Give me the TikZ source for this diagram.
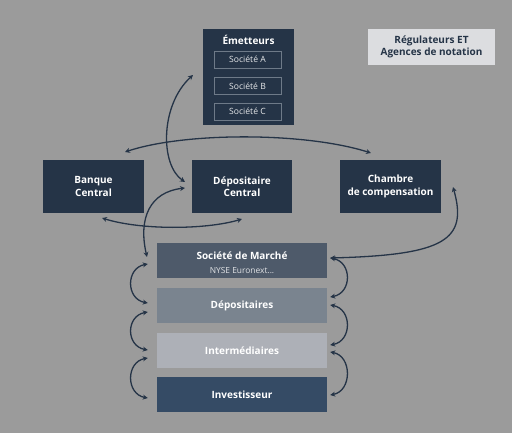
\documentclass[tikz,border=0pt]{standalone}
\usepackage{fontspec}
\setmainfont{Open Sans}
\usetikzlibrary{arrows.meta}
\definecolor{bg}{HTML}{9B9B9B}
\definecolor{navy}{HTML}{253447}
\definecolor{marche}{HTML}{4E5A6A}
\definecolor{deps}{HTML}{7A848F}
\definecolor{inter}{HTML}{ADB0B7}
\definecolor{invest}{HTML}{354B65}
\definecolor{reg}{HTML}{DCDDE0}
\definecolor{subline}{HTML}{6E7A88}
\tikzset{
  box/.style={inner sep=0pt, text=white, font=\bfseries\fontsize{10}{12.5}\selectfont, align=center},
  darkbox/.style={box, fill=navy, minimum width=101pt, minimum height=53pt},
  stackbox/.style={box, minimum width=170pt, minimum height=35pt},
  subbox/.style={inner sep=0pt, fill=navy, draw=subline, line width=0.6pt, text=white!88!navy,
    font=\fontsize{8.6}{10}\selectfont, minimum width=67pt, minimum height=17pt},
  conn/.style={draw=navy, line width=1.3pt, {Stealth[length=5pt,width=5pt]}-{Stealth[length=5pt,width=5pt]}}
}
\begin{document}
\begin{tikzpicture}[x=1pt,y=-1pt]
\fill[bg] (0,0) rectangle (512,433);
\useasboundingbox (0,0) rectangle (512,433);

% Emetteurs
\node[inner sep=0pt, fill=navy, minimum width=91pt, minimum height=96pt] (emet) at (248.5,77) {};
\node[box] (emett) at (248.5,39.5) {Émetteurs};
\node[subbox] (sa) at (247.5,59.5) {Société A};
\node[subbox] (sb) at (247.5,86) {Société B};
\node[subbox] (sc) at (247.5,111.5) {Société C};

% Regulateurs
\node[box, fill=reg, text=navy, minimum width=127pt, minimum height=36pt] (reg) at (431.5,47) {Régulateurs ET\\Agences de notation};

% middle row
\node[darkbox] (banque) at (93.5,186.5) {Banque\\Central};
\node[darkbox, minimum width=100pt] (depc) at (242,186.5) {Dépositaire\\Central};
\node[darkbox] (chambre) at (390.5,186.5) {Chambre\\de compensation};

% stack
\node[stackbox, fill=marche] (marche) at (242,260.5) {};
\node[box] (marchet) at (242,256) {Société de Marché};
\node[inner sep=0pt, text=white!82!marche, font=\fontsize{8.4}{10}\selectfont] (nyse) at (242,270.5) {NYSE Euronext...};
\node[stackbox, fill=deps] (deps) at (242,305.5) {Dépositaires};
\node[stackbox, fill=inter] (inter) at (242,350.5) {Intermédiaires};
\node[stackbox, fill=invest] (invest) at (242,394.5) {Investisseur};

% coordinates for connector ends
\coordinate (bqtop) at (125,152);
\coordinate (chtop) at (371,153);
\coordinate (emleft) at (193,75);
\coordinate (dcin1) at (185,182);
\coordinate (dcin2) at (185,188);
\coordinate (mkl) at (147,257);
\coordinate (bqbot) at (102,218);
\coordinate (dcbot) at (242,219);
\coordinate (chright) at (453,187);
\coordinate (mkr) at ([xshift=3pt,yshift=2.5pt]marche.east);

% top arcs
\draw[conn] (bqtop) .. controls (185,132) and (305,132) .. (chtop);
\draw[conn] (emleft) .. controls (160,105) and (160,165) .. (dcin1);
\draw[conn] (dcin2) .. controls (150,192) and (138,218) .. (mkl);
\draw[conn] (bqbot) .. controls (140,230) and (205,230) .. (dcbot);
\draw[conn] (chright) .. controls (468,240) and (445,255) .. (mkr);

% left arcs
\draw[conn] ([xshift=-9pt,yshift=-3.5pt]marche.west) .. controls +(-22,4) and +(-22,-4) .. ([xshift=-9pt,yshift=2.5pt]deps.west);
\draw[conn] ([xshift=-9pt,yshift=-6.5pt]deps.west) .. controls +(-22,4) and +(-22,-4) .. ([xshift=-9pt,yshift=0.5pt]inter.west);
\draw[conn] ([xshift=-9pt,yshift=-7.5pt]inter.west) .. controls +(-22,4) and +(-22,-4) .. ([xshift=-9pt,yshift=-3.5pt]invest.west);

% right arcs
\draw[conn] (mkr) .. controls +(22,4) and +(22,-4) .. ([xshift=3pt,yshift=8.5pt]deps.east);
\draw[conn] ([xshift=3pt,yshift=0.5pt]deps.east) .. controls +(22,4) and +(22,-4) .. ([xshift=3pt,yshift=5.5pt]inter.east);
\draw[conn] ([xshift=3pt,yshift=-1.5pt]inter.east) .. controls +(22,4) and +(22,-4) .. ([xshift=3pt,yshift=-0.5pt]invest.east);
\end{tikzpicture}
\end{document}
